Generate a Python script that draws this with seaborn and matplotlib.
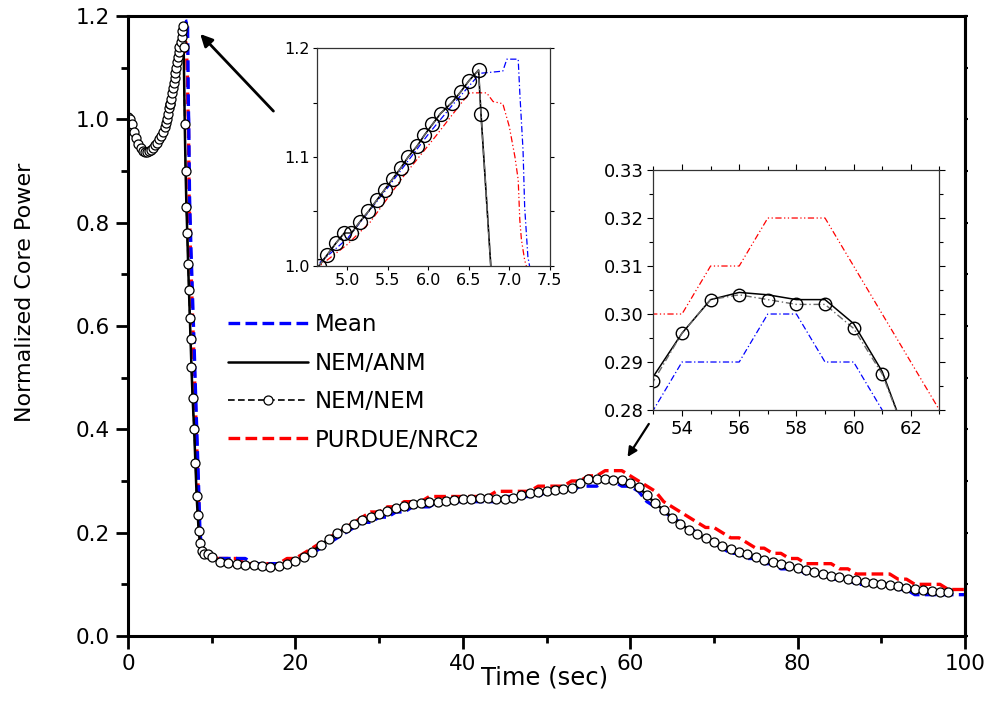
import matplotlib
matplotlib.use("Agg")
import matplotlib.pyplot as plt
import numpy as np
import seaborn as sns
from matplotlib.ticker import MultipleLocator, FormatStrFormatter

# NEM/ANM and NEM/NEM share one time grid (fine near the peak, 1 s afterwards)
t_nem = [0, 0.25, 0.5, 0.75, 1.0, 1.25, 1.5, 1.75, 2.0, 2.25, 2.5, 2.75, 3.0, 3.25, 3.5, 3.75,
         4.0, 4.2, 4.4, 4.55, 4.65, 4.75, 4.86, 4.96, 5.05, 5.15, 5.26, 5.36, 5.46, 5.56, 5.66,
         5.75, 5.86, 5.95, 6.05, 6.15, 6.29, 6.40, 6.50, 6.62, 6.65, 6.78, 6.88, 6.98, 7.08,
         7.18, 7.28, 7.38, 7.48, 7.58, 7.72, 7.9, 8.05, 8.2, 8.32, 8.45, 8.6, 8.8, 9.1, 9.5] \
        + list(range(10, 99))

p_early = [1.005, 1.0, 0.99, 0.975, 0.963, 0.952, 0.944, 0.939, 0.937, 0.937, 0.938, 0.941,
           0.945, 0.95, 0.955, 0.961, 0.968, 0.975, 0.985, 0.993, 1.0, 1.01, 1.021, 1.03, 1.03,
           1.04, 1.05, 1.06, 1.07, 1.08, 1.09, 1.10, 1.11, 1.12, 1.13, 1.14, 1.15, 1.16, 1.17,
           1.18, 1.14, 0.99, 0.90, 0.83, 0.78, 0.72, 0.67, 0.615, 0.575, 0.52, 0.46, 0.40,
           0.335, 0.27, 0.235, 0.203, 0.18, 0.165, 0.159, 0.158]

nem_anm = p_early + [
    0.152, 0.144, 0.141, 0.139, 0.138, 0.137, 0.135, 0.134, 0.136, 0.14,
    0.145, 0.152, 0.163, 0.176, 0.188, 0.199, 0.209, 0.217, 0.224, 0.231,
    0.237, 0.242, 0.247, 0.251, 0.255, 0.257, 0.259, 0.26, 0.261, 0.263,
    0.265, 0.266, 0.267, 0.267, 0.266, 0.266, 0.268, 0.272, 0.276, 0.279,
    0.281, 0.283, 0.285, 0.287, 0.296, 0.303, 0.3045, 0.304, 0.303, 0.303,
    0.298, 0.288, 0.272, 0.257, 0.243, 0.229, 0.217, 0.206, 0.197, 0.189,
    0.182, 0.175, 0.169, 0.163, 0.158, 0.153, 0.148, 0.143, 0.139, 0.135,
    0.131, 0.127, 0.123, 0.12, 0.117, 0.114, 0.111, 0.108, 0.105, 0.102,
    0.1, 0.098, 0.096, 0.093, 0.091, 0.089, 0.087, 0.086, 0.085]

nem_nem = p_early + [
    0.152, 0.144, 0.141, 0.139, 0.138, 0.137, 0.135, 0.134, 0.136, 0.14,
    0.145, 0.152, 0.163, 0.176, 0.188, 0.199, 0.209, 0.217, 0.224, 0.231,
    0.237, 0.242, 0.247, 0.251, 0.255, 0.257, 0.259, 0.26, 0.261, 0.263,
    0.265, 0.266, 0.267, 0.267, 0.266, 0.266, 0.268, 0.272, 0.276, 0.279,
    0.281, 0.283, 0.285, 0.286, 0.296, 0.303, 0.304, 0.303, 0.302, 0.302,
    0.297, 0.2875, 0.272, 0.257, 0.243, 0.229, 0.217, 0.206, 0.197, 0.189,
    0.182, 0.175, 0.169, 0.163, 0.158, 0.153, 0.148, 0.143, 0.139, 0.135,
    0.131, 0.127, 0.123, 0.12, 0.117, 0.114, 0.111, 0.108, 0.105, 0.102,
    0.1, 0.098, 0.096, 0.093, 0.091, 0.089, 0.087, 0.086, 0.085]

# Mean
t_mean = [0, 0.5, 1.0, 1.5, 2.0, 2.5, 3.0, 3.5, 4.0, 4.3, 4.66, 5.0, 5.5, 6.0, 6.3, 6.5, 6.64,
          6.92, 6.97, 7.11, 7.13, 7.17, 7.19, 7.23, 7.25, 7.35, 7.5, 7.7, 7.9, 8.05, 8.25,
          8.45, 8.6, 8.8, 9.2] + list(range(10, 101))
mean = [1.0, 0.99, 0.962, 0.943, 0.937, 0.938, 0.945, 0.955, 0.967, 0.978, 1.003, 1.025,
        1.072, 1.121, 1.148, 1.165, 1.177, 1.179, 1.19, 1.19, 1.159, 1.106, 1.054, 1.008,
        1.0, 0.85, 0.76, 0.66, 0.56, 0.48, 0.38, 0.28, 0.20, 0.17, 0.16] + [
    0.15, 0.15, 0.15, 0.15, 0.15, 0.14, 0.14, 0.14, 0.14, 0.14,
    0.14, 0.15, 0.16, 0.17, 0.18, 0.19, 0.20, 0.21, 0.22, 0.22,
    0.23, 0.23, 0.24, 0.24, 0.25, 0.25, 0.25, 0.26, 0.26, 0.26,
    0.26, 0.26, 0.26, 0.26, 0.26, 0.27, 0.27, 0.27, 0.27, 0.27,
    0.28, 0.28, 0.28, 0.28, 0.29, 0.29, 0.29, 0.30, 0.30, 0.29,
    0.29, 0.28, 0.26, 0.25, 0.24, 0.23, 0.22, 0.21, 0.20, 0.19,
    0.18, 0.17, 0.16, 0.16, 0.15, 0.15, 0.14, 0.14, 0.13, 0.13,
    0.13, 0.12, 0.12, 0.12, 0.11, 0.11, 0.11, 0.10, 0.10, 0.10,
    0.10, 0.10, 0.09, 0.09, 0.08, 0.08, 0.08, 0.08, 0.08, 0.08, 0.08]

# PURDUE/NRC2
t_purdue = [0, 0.5, 1.0, 1.5, 2.0, 2.5, 3.0, 3.5, 4.0, 4.3, 4.66, 4.99, 5.28, 5.69, 6.1, 6.39,
            6.51, 6.72, 6.8, 6.92, 7.0, 7.07, 7.11, 7.13, 7.15, 7.19, 7.21, 7.3, 7.45, 7.65,
            7.85, 8.0, 8.2, 8.4, 8.55, 8.75, 9.1] + list(range(10, 101))
purdue = [1.0, 0.99, 0.962, 0.943, 0.937, 0.938, 0.944, 0.953, 0.965, 0.977, 1.0, 1.019, 1.04,
          1.082, 1.12, 1.148, 1.159, 1.159, 1.151, 1.149, 1.128, 1.10, 1.079, 1.042, 1.024,
          1.005, 1.0, 0.85, 0.75, 0.65, 0.55, 0.47, 0.37, 0.27, 0.20, 0.17, 0.16] + [
    0.15, 0.15, 0.15, 0.15, 0.14, 0.14, 0.14, 0.14, 0.14, 0.15,
    0.15, 0.16, 0.17, 0.18, 0.19, 0.20, 0.21, 0.22, 0.23, 0.24,
    0.24, 0.25, 0.25, 0.26, 0.26, 0.26, 0.27, 0.27, 0.27, 0.27,
    0.27, 0.27, 0.27, 0.27, 0.28, 0.28, 0.28, 0.28, 0.28, 0.29,
    0.29, 0.29, 0.29, 0.30, 0.30, 0.31, 0.31, 0.32, 0.32, 0.32,
    0.31, 0.30, 0.29, 0.28, 0.26, 0.25, 0.24, 0.23, 0.22, 0.21,
    0.21, 0.20, 0.19, 0.19, 0.18, 0.17, 0.17, 0.16, 0.16, 0.15,
    0.15, 0.14, 0.14, 0.14, 0.14, 0.13, 0.13, 0.12, 0.12, 0.12,
    0.12, 0.12, 0.11, 0.11, 0.10, 0.10, 0.10, 0.10, 0.09, 0.09, 0.09]

labels = ["Mean", "NEM/ANM", "NEM/NEM", "PURDUE/NRC2"]

sns.set_theme(style="ticks")
plt.rcParams['font.family'] = ['DejaVu Sans']
plt.rcParams['axes.linewidth'] = 2.2
plt.rcParams['text.color'] = 'black'
plt.rcParams['axes.labelcolor'] = 'black'
plt.rcParams['xtick.color'] = 'black'
plt.rcParams['ytick.color'] = 'black'

fig = plt.figure(figsize=(9.9, 7.04), dpi=100)
ax = fig.add_axes([0.1293, 0.0966, 0.8455, 0.8807])

sns.lineplot(x=t_purdue, y=purdue, ax=ax, estimator=None, color="red", lw=2.4,
             linestyle=(0, (3.5, 1.6)))
sns.lineplot(x=t_mean, y=mean, ax=ax, estimator=None, color="blue", lw=2.4,
             linestyle=(0, (3.5, 1.6)))
sns.lineplot(x=t_nem, y=nem_anm, ax=ax, estimator=None, color="black", lw=1.8)
sns.lineplot(x=t_nem, y=nem_nem, ax=ax, estimator=None, color="black", lw=1.2,
             linestyle=(0, (4, 2)), marker="o", markersize=6.5, markerfacecolor="white",
             markeredgecolor="black", markeredgewidth=0.9)
l_red, l_blue, l_anm, l_nem = ax.lines[:4]

ax.set_xlim(0, 100)
ax.set_ylim(0, 1.2)
ax.xaxis.set_major_locator(MultipleLocator(20))
ax.xaxis.set_minor_locator(MultipleLocator(10))
ax.yaxis.set_major_locator(MultipleLocator(0.2))
ax.yaxis.set_minor_locator(MultipleLocator(0.1))
ax.yaxis.set_major_formatter(FormatStrFormatter('%.1f'))
ax.tick_params(which='major', direction='out', length=9, width=2, labelsize=15.5, pad=4)
ax.tick_params(which='minor', direction='out', length=5, width=2)
for s in ax.spines.values():
    s.set_color('black')

sec = ax.secondary_yaxis('right')
sec.yaxis.set_major_locator(MultipleLocator(0.1))
sec.tick_params(length=2, width=1.5, labelright=False)

ax.set_xlabel("Time (sec)", fontsize=17.5)
ax.xaxis.set_label_coords(0.498, -0.048)
ax.set_ylabel("Normalized Core Power", fontsize=16)
ax.yaxis.set_label_coords(-0.111, 0.554)

ax.legend([l_blue, l_anm, l_nem, l_red], labels, loc='upper left',
          bbox_to_anchor=(0.108, 0.535), frameon=False, fontsize=16.5, handlelength=3.5,
          handletextpad=0.3, labelspacing=0.67, borderaxespad=0, borderpad=0.4)

ax.annotate('', xy=(8.4, 1.169), xytext=(17.6, 1.012),
            arrowprops=dict(arrowstyle='-|>', color='black', lw=2, mutation_scale=18))
ax.annotate('', xy=(59.5, 0.342), xytext=(62.4, 0.415),
            arrowprops=dict(arrowstyle='-|>', color='black', lw=1.6, mutation_scale=14))

# inset around the power peak
ax1 = fig.add_axes([0.3199, 0.6226, 0.2354, 0.3088])
sns.lineplot(x=t_purdue, y=purdue, ax=ax1, estimator=None, color="red", lw=0.9,
             linestyle=(0, (5, 2, 1, 2, 1, 2)))
sns.lineplot(x=t_mean, y=mean, ax=ax1, estimator=None, color="blue", lw=0.9,
             linestyle=(0, (5, 2, 1, 2)))
sns.lineplot(x=t_nem, y=nem_anm, ax=ax1, estimator=None, color="black", lw=1.2)
sns.lineplot(x=t_nem, y=nem_nem, ax=ax1, estimator=None, color="dimgray", lw=1.0,
             linestyle=(0, (5, 2, 1, 2)), marker="o", markersize=10, markerfacecolor="none",
             markeredgecolor="black", markeredgewidth=1.0)
ax1.set_xlim(4.62, 7.5)
ax1.set_ylim(1.0, 1.2)
ax1.xaxis.set_major_locator(MultipleLocator(0.5))
ax1.yaxis.set_major_locator(MultipleLocator(0.1))
ax1.yaxis.set_minor_locator(MultipleLocator(0.05))
ax1.xaxis.set_major_formatter(FormatStrFormatter('%.1f'))
ax1.yaxis.set_major_formatter(FormatStrFormatter('%.1f'))
ax1.tick_params(which='both', direction='out', length=3, width=0.8, labelsize=11.5, pad=2,
                right=True)
for s in ax1.spines.values():
    s.set_linewidth(0.9)
    s.set_color('#333333')
ax1.set_xlabel('')
ax1.set_ylabel('')

# inset around the second hump
ax2 = fig.add_axes([0.660, 0.4176, 0.2889, 0.3409])
sns.lineplot(x=t_purdue, y=purdue, ax=ax2, estimator=None, color="red", lw=0.9,
             linestyle=(0, (5, 2, 1, 2, 1, 2)))
sns.lineplot(x=t_mean, y=mean, ax=ax2, estimator=None, color="blue", lw=0.9,
             linestyle=(0, (5, 2, 1, 2)))
sns.lineplot(x=t_nem, y=nem_anm, ax=ax2, estimator=None, color="black", lw=1.1)
sns.lineplot(x=t_nem, y=nem_nem, ax=ax2, estimator=None, color="dimgray", lw=1.0,
             linestyle=(0, (5, 2, 1, 2)), marker="o", markersize=9, markerfacecolor="none",
             markeredgecolor="black", markeredgewidth=1.0)
ax2.set_xlim(53, 63)
ax2.set_ylim(0.28, 0.33)
ax2.xaxis.set_major_locator(MultipleLocator(2))
ax2.xaxis.set_minor_locator(MultipleLocator(1))
ax2.yaxis.set_major_locator(MultipleLocator(0.01))
ax2.yaxis.set_minor_locator(MultipleLocator(0.005))
ax2.yaxis.set_major_formatter(FormatStrFormatter('%.2f'))
ax2.tick_params(which='major', direction='out', length=4, width=0.8, labelsize=13, pad=3,
                right=True, top=True)
ax2.tick_params(which='minor', direction='out', length=3, width=0.8, right=True, top=True)
for s in ax2.spines.values():
    s.set_linewidth(0.9)
    s.set_color('#333333')
ax2.set_xlabel('')
ax2.set_ylabel('')

fig.savefig("out.png", dpi=100)
